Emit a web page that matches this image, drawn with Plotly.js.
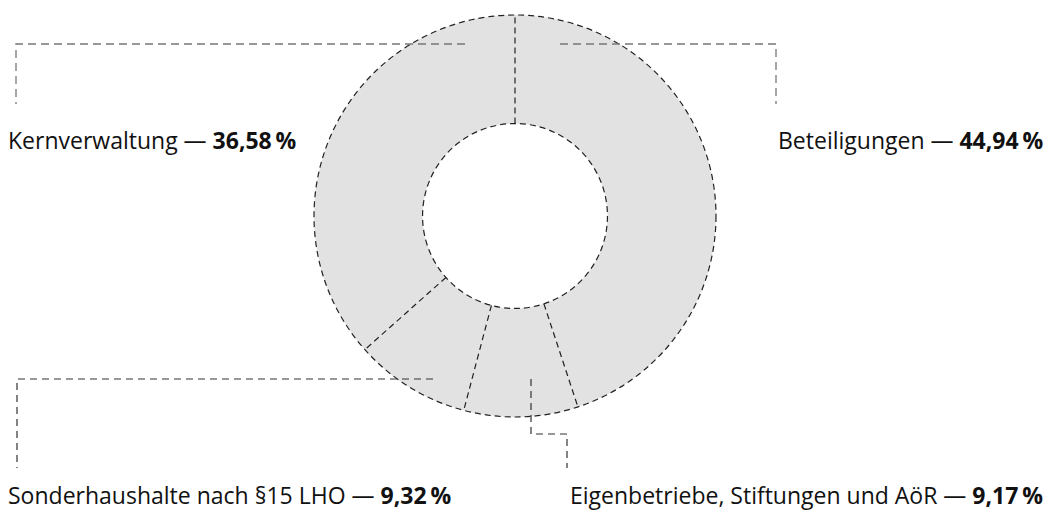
<!DOCTYPE html>
<html>
<head>
<meta charset="utf-8">
<script src="https://cdn.plot.ly/plotly-3.0.1.min.js"></script>
<style>html,body{margin:0;padding:0;background:#fff;}#chart{width:1050px;height:515px;}</style>
</head>
<body>
<div id="chart"></div>
<script>
// Data (clockwise from 12 o'clock)
const categories = ["Beteiligungen", "Eigenbetriebe, Stiftungen und AöR", "Sonderhaushalte nach §15 LHO", "Kernverwaltung"];
const shares = [44.94, 9.17, 9.32, 36.58];

const W = 1050, H = 515;
const px = x => x / W;
const py = y => 1 - y / H;

// Pie geometry (pixels)
const cx = 515, cy = 216, R = 201, hole = 0.46, r = R * hole;

const fmt = v => v.toFixed(2).replace('.', ',') + '\u2009%';

const shapes = [];
const darkLine = {color: '#222', width: 1.2, dash: '6px,4px'};
// outer and inner circle outlines
shapes.push({type: 'circle', xref: 'paper', yref: 'paper', x0: px(cx - R), x1: px(cx + R), y0: py(cy + R), y1: py(cy - R), line: darkLine, fillcolor: 'rgba(0,0,0,0)'});
shapes.push({type: 'circle', xref: 'paper', yref: 'paper', x0: px(cx - r), x1: px(cx + r), y0: py(cy + r), y1: py(cy - r), line: darkLine, fillcolor: 'rgba(0,0,0,0)'});
// radial boundaries from the data
const total = shares.reduce((a, b) => a + b, 0);
let cum = 0;
shares.forEach(v => {
  const t = cum / total * 2 * Math.PI;
  shapes.push({type: 'line', xref: 'paper', yref: 'paper',
    x0: px(cx + r * Math.sin(t)), y0: py(cy - r * Math.cos(t)),
    x1: px(cx + R * Math.sin(t)), y1: py(cy - R * Math.cos(t)), line: darkLine});
  cum += v;
});

// leader lines
const greyLead = {color: '#777', width: 1.3, dash: '8px,5px'};
const darkLead = {color: '#333', width: 1.2, dash: '7px,5px'};
function path(pts, line) {
  const d = pts.map((p, i) => (i ? 'L' : 'M') + px(p[0]) + ',' + py(p[1])).join(' ');
  shapes.push({type: 'path', xref: 'paper', yref: 'paper', path: d, line: line});
}
path([[465, 44], [16, 44], [16, 104]], greyLead);
path([[560, 44], [776, 44], [776, 104]], greyLead);
path([[433, 379], [17, 379], [17, 468]], darkLead);
path([[531, 379], [531, 434], [567, 434], [567, 468]], darkLead);

const font = {family: 'Open Sans, sans-serif', size: 23, color: '#111'};
const ann = (i, x, y, xa) => ({
  xref: 'paper', yref: 'paper', x: px(x), y: py(y), xanchor: xa, yanchor: 'middle',
  showarrow: false, font: font,
  text: categories[i] + ' \u2014 <b>' + fmt(shares[i]) + '</b>'
});
const annotations = [
  ann(3, 6, 140, 'left'),
  ann(0, 1045, 140, 'right'),
  ann(2, 6, 495, 'left'),
  ann(1, 1045, 495, 'right')
];

const trace = {
  type: 'pie', labels: categories, values: shares, sort: false, direction: 'clockwise',
  rotation: 0, hole: hole, textinfo: 'none', hoverinfo: 'none',
  marker: {colors: categories.map(() => '#e2e2e2'), line: {width: 0}},
  domain: {x: [0, 2 * cx / W], y: [py(cy + R), py(cy - R)]},
  showlegend: false
};

Plotly.newPlot('chart', [trace], {
  width: W, height: H, margin: {l: 0, r: 0, t: 0, b: 0},
  paper_bgcolor: '#fff', plot_bgcolor: '#fff',
  showlegend: false, shapes: shapes, annotations: annotations
}, {displayModeBar: false, staticPlot: true});
</script>
</body>
</html>
